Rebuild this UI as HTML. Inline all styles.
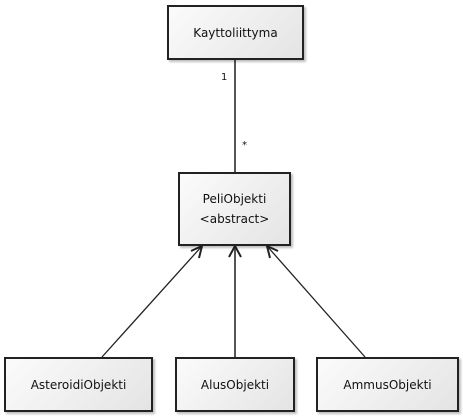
<!DOCTYPE html>
<html><head><style>
html,body{margin:0;padding:0;background:#fff;width:463px;height:418px;overflow:hidden}
.b{position:absolute;box-sizing:border-box;border:2px solid #222;background:linear-gradient(135deg,#fbfbfb,#e4e4e4);box-shadow:2px 2px 2px rgba(0,0,0,0.25);font-family:"DejaVu Sans","Liberation Sans",sans-serif;font-size:12px;color:#111;display:flex;align-items:center;justify-content:center;text-align:center;line-height:20px}
.t{position:absolute;font-family:"DejaVu Sans","Liberation Sans",sans-serif;font-size:10px;color:#111}
</style></head><body>
<svg width="463" height="418" style="position:absolute;left:0;top:0">
<g stroke="#555" fill="none">
<line x1="235" y1="59" x2="235" y2="172" stroke-width="2"/>
<line x1="102" y1="357" x2="202" y2="246" stroke="#222" stroke-width="1.3"/>
<line x1="235" y1="357" x2="235" y2="246" stroke-width="2"/>
<line x1="365" y1="357" x2="267" y2="246" stroke="#222" stroke-width="1.3"/>
<polyline points="191,251 202,246 199,258" stroke="#222" stroke-width="2"/>
<polyline points="229,257 235,246 241,257" stroke="#222" stroke-width="2"/>
<polyline points="270,258 267,246 278,251" stroke="#222" stroke-width="2"/>
</g>
</svg>
<div class="b" style="left:167px;top:5px;width:137px;height:55px">Kayttoliittyma</div>
<div class="t" style="left:221px;top:72px">1</div>
<div class="t" style="left:242px;top:140px">*</div>
<div class="b" style="left:178px;top:172px;width:113px;height:74px">PeliObjekti<br>&lt;abstract&gt;</div>
<div class="b" style="left:4px;top:357px;width:149px;height:55px">AsteroidiObjekti</div>
<div class="b" style="left:175px;top:357px;width:120px;height:55px">AlusObjekti</div>
<div class="b" style="left:316px;top:357px;width:143px;height:55px">AmmusObjekti</div>
</body></html>
